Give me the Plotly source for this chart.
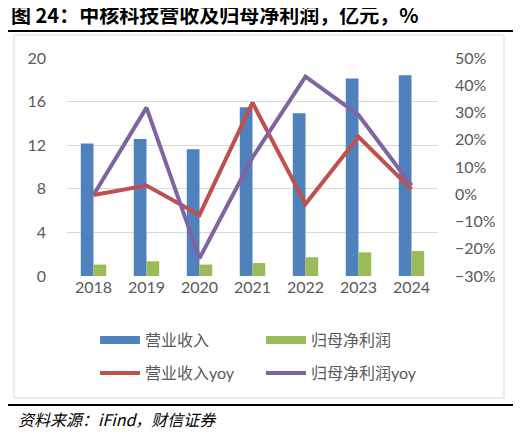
import plotly.graph_objects as go

years = ['2018', '2019', '2020', '2021', '2022', '2023', '2024']
revenue = [12.15, 12.57, 11.62, 15.48, 14.93, 18.11, 18.41]
net_profit = [1.05, 1.35, 1.05, 1.19, 1.72, 2.17, 2.29]
revenue_yoy = [-0.3, 3.2, -7.6, 33.6, -3.6, 21.1, 1.8]
profit_yoy = [-0.3, 31.8, -23.5, 13.5, 43.2, 29.1, 3.2]

BLUE = '#4F81BD'
GREEN = '#9BBB59'
RED = '#C0504D'
PURPLE = '#8064A2'
GRAY = '#595959'
FONT = 'Lato, Noto Sans CJK SC'

# page body has an 8px margin, so the figure is drawn 8px in from the window corner
O = 8
W, H = 521 - O, 436 - O
# plot area in window pixels (left, right, top, bottom)
L, R, T, B = 67, 438, 58, 276

def px(x):
    return (x - L) / (R - L)

def py(y):
    return (B - y) / (B - T)

fig = go.Figure()
fig.add_trace(go.Bar(x=years, y=revenue, name='营业收入', marker_color=BLUE,
                     marker_line_width=0, showlegend=False))
fig.add_trace(go.Bar(x=years, y=net_profit, name='归母净利润', marker_color=GREEN,
                     marker_line_width=0, showlegend=False))
fig.add_trace(go.Scatter(x=years, y=revenue_yoy, name='营业收入yoy', yaxis='y2',
                         mode='lines', line=dict(color=RED, width=4),
                         showlegend=False))
fig.add_trace(go.Scatter(x=years, y=profit_yoy, name='归母净利润yoy', yaxis='y2',
                         mode='lines', line=dict(color=PURPLE, width=4),
                         showlegend=False))

# legend entries (Excel style wide swatches), two rows -> two legends
for name, color, w, lg in [('营业收入', BLUE, 8, 'legend'), ('归母净利润', GREEN, 8, 'legend'),
                           ('营业收入yoy', RED, 4, 'legend2'), ('归母净利润yoy', PURPLE, 4, 'legend2')]:
    fig.add_trace(go.Scatter(x=[None], y=[None], name=name, mode='lines',
                             line=dict(color=color, width=w), yaxis='y2', legend=lg))

leg = dict(orientation='h', xanchor='left', yanchor='middle', entrywidth=111,
           itemwidth=40, font=dict(size=16, color=GRAY), traceorder='normal',
           bgcolor='rgba(0,0,0,0)')

fig.update_layout(
    width=W, height=H,
    margin=dict(l=L - O, r=W - (R - O), t=T - O, b=H - (B - O), autoexpand=False),
    paper_bgcolor='white', plot_bgcolor='white',
    font=dict(family=FONT, size=15, color=GRAY),
    barmode='group', bargap=0.52, bargroupgap=0,
    showlegend=True,
    legend=dict(leg, x=px(95), y=py(340)),
    legend2=dict(leg, x=px(95), y=py(373)),
    xaxis=dict(showgrid=False, showline=False, zeroline=False, ticks='',
               tickfont=dict(size=16, color=GRAY)),
    yaxis=dict(range=[0, 20], dtick=4, showgrid=True, gridcolor='#D9D9D9',
               gridwidth=1, zeroline=False, showline=False,
               ticklabelstandoff=20, tickfont=dict(size=16, color=GRAY)),
    yaxis2=dict(range=[-30, 50], dtick=10, overlaying='y', side='right',
                showgrid=False, zeroline=False, showline=False, ticksuffix='%',
                ticklabelstandoff=16, tickfont=dict(size=16, color=GRAY)),
)

# title, rules, chart frame and source
fig.add_annotation(text='<b>图 24：中核科技营收及归母净利润，亿元，%</b>',
                   xref='paper', yref='paper', x=px(9), y=py(14),
                   xanchor='left', yanchor='middle', showarrow=False,
                   font=dict(family='Noto Sans CJK SC', size=20, color='black'))
fig.add_shape(type='line', xref='paper', yref='paper', x0=px(O), x1=px(516),
              y0=py(31), y1=py(31), line=dict(color='black', width=2))
fig.add_shape(type='rect', xref='paper', yref='paper', x0=px(14), x1=px(504),
              y0=py(398), y1=py(35), line=dict(color='#D9D9D9', width=1))
fig.add_shape(type='line', xref='paper', yref='paper', x0=px(O), x1=px(516),
              y0=py(405), y1=py(405), line=dict(color='black', width=2))
fig.add_annotation(text='<i>资料来源：iFind，财信证券</i>',
                   xref='paper', yref='paper', x=px(16), y=py(419),
                   xanchor='left', yanchor='middle', showarrow=False,
                   font=dict(family='Noto Sans CJK SC', size=16, color='black'))

fig.write_html('out.html')
